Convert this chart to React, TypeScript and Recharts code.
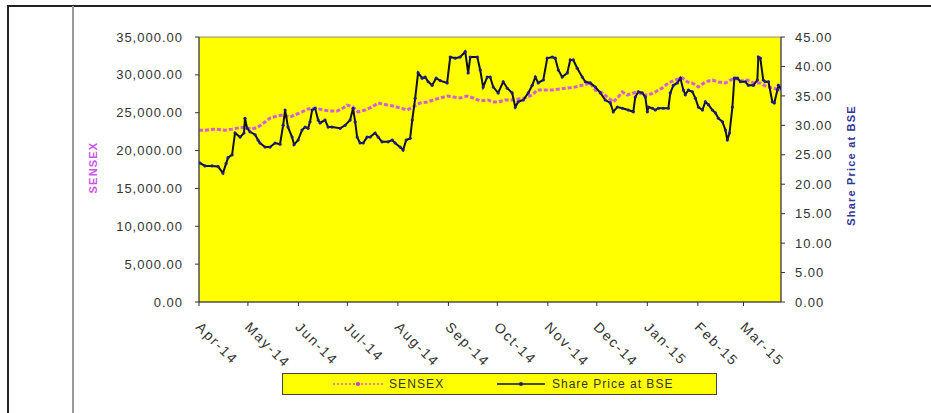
import React from 'react';
import { LineChart, Line, XAxis, YAxis, ReferenceArea } from 'recharts';

// Days since 1 Apr 2014 at each month start (tick positions) and their labels
const monthTicks = [0, 30, 61, 91, 122, 153, 183, 214, 244, 275, 306, 334];
const monthLabels = ['Apr-14', 'May-14', 'Jun-14', 'Jul-14', 'Aug-14', 'Sep-14', 'Oct-14', 'Nov-14', 'Dec-14', 'Jan-15', 'Feb-15', 'Mar-15'];

const sensexTicks = [0, 5000, 10000, 15000, 20000, 25000, 30000, 35000];
const priceTicks = [0, 5, 10, 15, 20, 25, 30, 35, 40, 45];

// SENSEX (left axis)
const sensexDays = [0, 3.7, 9.8, 16, 20.3, 23.9, 28.2, 32.5, 36.2, 40.5, 43.6, 47.9, 51.6, 55.9, 60.2, 63.2, 66.9, 71.2, 76.1, 80.4, 84.7, 88.4, 90.9, 94.5, 97.6, 101.9, 106.2, 109.9, 115.4, 119.1, 123.4, 127.7, 131.4, 135.7, 140, 143.6, 147.9, 152.2, 155.9, 160.2, 164.5, 168.2, 172.5, 177.4, 179.9, 183.5, 187.8, 192.1, 195.8, 200.1, 204.4, 207.5, 211.2, 216.7, 221.6, 226.5, 230.8, 235.7, 240, 243.1, 247.4, 251.1, 254.1, 257.2, 259.7, 262.7, 266.4, 268.9, 272.5, 275.6, 279.9, 284.2, 287.9, 292.2, 296.5, 299.6, 302.6, 306.3, 310.6, 314.9, 318.6, 322.9, 326, 329.1, 332.1, 336.4, 340.1, 344.3, 348.3, 352.3, 355.4, 357];
const sensexValues = [22700, 22700, 22830, 22700, 22830, 22980, 23100, 22830, 23100, 23775, 24300, 24570, 24700, 24430, 24830, 25100, 25490, 25620, 25360, 25230, 25230, 25620, 26000, 25760, 25100, 25360, 25760, 26280, 26020, 25890, 25620, 25360, 25760, 26280, 26420, 26680, 26950, 27200, 27080, 26950, 27200, 26950, 26550, 26680, 26420, 26420, 26680, 26680, 26810, 26950, 27340, 28000, 28000, 28000, 28130, 28270, 28400, 28660, 28920, 28000, 27600, 26950, 26420, 27080, 27740, 27340, 27600, 27740, 27340, 27340, 27740, 28270, 28920, 29320, 29590, 29060, 28920, 28400, 29060, 29320, 29060, 28920, 29320, 29590, 29190, 29320, 28920, 28920, 28400, 28270, 28000, 28000];

// Share Price at BSE (right axis)
const priceDays = [0.6, 3.7, 8, 11.7, 14.7, 16.6, 17.8, 20.3, 22.1, 25.2, 27.6, 28.2, 29.5, 31.3, 34.4, 36.2, 37.4, 40.5, 43.6, 46.7, 49.7, 51.6, 52.8, 54.6, 57.1, 58.3, 60.8, 63.2, 65.1, 66.9, 68.1, 69.4, 71.2, 73.1, 74.3, 77.3, 79.2, 81.6, 86.6, 89.6, 92.7, 94.5, 95.8, 97, 98.8, 100.7, 103.1, 105, 108, 109.9, 112.3, 116, 118.5, 120.3, 123.4, 125.2, 127.1, 129.5, 130.8, 132.6, 134.4, 136.9, 138.7, 140.6, 143, 145.5, 147.9, 152.2, 154.1, 157.2, 160.2, 163.3, 165.1, 166.4, 170.7, 172.5, 174.3, 176.8, 178.6, 180.5, 183.5, 186.6, 189.1, 192.1, 194, 195.8, 198.9, 202, 204.4, 206.3, 208.1, 211.2, 213.6, 216.7, 218.5, 220.4, 222.8, 225.9, 227.7, 229.6, 232, 235.1, 237, 240, 243.1, 246.2, 249.2, 252.3, 254.1, 256.6, 259.7, 263.3, 266.4, 267.6, 269.5, 271.9, 273.8, 275, 275.6, 278.1, 279.9, 281.8, 284.8, 287.9, 289.1, 291, 293.4, 295.3, 297.1, 298.3, 300.2, 302.6, 304.5, 306.3, 308.8, 310.6, 312.5, 314.9, 316.8, 318.6, 321.1, 322.9, 324.1, 325.4, 327.2, 328.4, 330.3, 332.1, 335.2, 337, 340.1, 342.5, 343.1, 344.3, 346.1, 347.3, 349.3, 351.7, 352.9, 354.8, 355.4, 357];
const priceValues = [23.6, 23.1, 23.1, 23.0, 21.9, 23.5, 24.5, 25.0, 28.7, 28.0, 28.7, 31.2, 29.5, 28.9, 28.4, 27.5, 27.0, 26.3, 26.3, 27.0, 26.8, 30.0, 32.6, 29.7, 28.0, 26.7, 27.5, 29.2, 29.7, 29.5, 30.6, 32.6, 32.9, 30.9, 30.4, 30.9, 29.7, 29.7, 29.5, 30.0, 30.9, 32.9, 30.6, 28.0, 27.0, 27.0, 28.0, 28.0, 28.7, 28.0, 27.2, 27.2, 27.5, 27.0, 26.3, 25.8, 27.5, 27.8, 30.9, 34.6, 38.9, 38.0, 38.2, 37.4, 36.8, 38.0, 37.6, 37.2, 41.6, 41.4, 41.6, 42.5, 38.9, 41.6, 41.6, 39.4, 36.5, 38.2, 38.2, 36.5, 35.5, 37.4, 36.3, 35.5, 33.1, 34.0, 34.3, 35.5, 36.8, 38.2, 37.2, 37.7, 41.4, 41.6, 41.4, 39.4, 38.2, 38.9, 41.1, 41.1, 39.7, 38.2, 37.4, 37.2, 36.5, 35.5, 34.3, 33.8, 32.3, 33.1, 32.9, 32.6, 32.3, 34.8, 35.7, 35.5, 34.8, 32.3, 33.1, 32.9, 32.6, 32.9, 32.9, 32.9, 35.5, 36.8, 37.2, 38.0, 36.0, 35.2, 36.0, 35.7, 34.6, 33.1, 32.6, 34.0, 33.5, 32.6, 32.1, 31.2, 30.6, 29.2, 27.5, 28.7, 33.1, 38.0, 38.0, 37.4, 37.4, 36.8, 36.8, 37.7, 41.6, 41.4, 37.7, 37.4, 37.4, 34.0, 33.8, 36.0, 36.8, 36.3];

const sensexData = sensexDays.map((d, i) => ({ day: d, sensex: sensexValues[i] }));
const priceData = priceDays.map((d, i) => ({ day: d, price: priceValues[i] }));

const FONT = 'Arial, "Liberation Sans", sans-serif';
const TXT = '#333';

const fmtSensex = (v: number) =>
  v.toLocaleString('en-US', { minimumFractionDigits: 2, maximumFractionDigits: 2 });
const fmtPrice = (v: number) => v.toFixed(2);

const MonthTick = (props: any) => {
  const { x, y, payload } = props;
  const idx = monthTicks.indexOf(payload.value);
  const label = idx >= 0 ? monthLabels[idx] : '';
  return (
    <text
      transform={`translate(${x - 4},${y + 20}) rotate(45)`}
      textAnchor="start"
      fontFamily={FONT}
      fontSize={14}
      letterSpacing={1.8}
      fill={TXT}
    >
      {label}
    </text>
  );
};

export default function App() {
  return (
    <div style={{ position: 'absolute', left: 0, top: 0, width: 931, height: 413, background: '#fff', overflow: 'hidden' }}>
      {/* frame lines */}
      <div style={{ position: 'absolute', left: 7, top: 5, width: 930, height: 2, background: '#222' }} />
      <div style={{ position: 'absolute', left: 7, top: 5, width: 1.5, height: 420, background: '#222' }} />
      <div style={{ position: 'absolute', left: 72, top: 6, width: 2, height: 420, background: '#999' }} />
      <div style={{ position: 'absolute', left: 0, top: 0 }}>
        <LineChart width={931} height={413} margin={{ top: 37, right: 70, bottom: 51, left: 80 }}>
          <XAxis
            type="number"
            dataKey="day"
            domain={[0, 357]}
            ticks={monthTicks}
            interval={0}
            tick={<MonthTick />}
            tickSize={4}
            height={60}
            stroke="#333"
            allowDataOverflow
          />
          <YAxis
            yAxisId="left"
            domain={[0, 35000]}
            ticks={sensexTicks}
            interval={0}
            tickFormatter={fmtSensex}
            width={119}
            tickSize={4}
            tickMargin={12}
            stroke="#333"
            tick={{ fontFamily: FONT, fontSize: 13, fill: TXT, letterSpacing: 1 }}
            label={(p: any) => {
              const vb = p.viewBox;
              const cx = vb.x + 13;
              const cy = vb.y + vb.height / 2 - 2;
              return (
                <text
                  x={cx}
                  y={cy}
                  transform={`rotate(-90, ${cx}, ${cy})`}
                  textAnchor="middle"
                  dominantBaseline="central"
                  fontFamily={FONT}
                  fontSize={11}
                  fontWeight="bold"
                  letterSpacing={1.2}
                  fill="#cc55ee"
                >
                  SENSEX
                </text>
              );
            }}
          />
          <YAxis
            yAxisId="right"
            orientation="right"
            domain={[0, 45]}
            ticks={priceTicks}
            interval={0}
            tickFormatter={fmtPrice}
            width={80}
            tickSize={4}
            tickMargin={10}
            stroke="#333"
            tick={{ fontFamily: FONT, fontSize: 13, fill: TXT, letterSpacing: 1 }}
            label={(p: any) => {
              const vb = p.viewBox;
              const cx = vb.x + 70;
              const cy = vb.y + vb.height / 2 - 4;
              return (
                <text
                  x={cx}
                  y={cy}
                  transform={`rotate(-90, ${cx}, ${cy})`}
                  textAnchor="middle"
                  dominantBaseline="central"
                  fontFamily={FONT}
                  fontSize={11}
                  fontWeight="bold"
                  letterSpacing={1.2}
                  fill="#333399"
                >
                  Share Price at BSE
                </text>
              );
            }}
          />
          <ReferenceArea
            yAxisId="left"
            x1={0}
            x2={357}
            y1={0}
            y2={35000}
            fill="#ffff00"
            fillOpacity={1}
            stroke="#888"
            strokeWidth={1}
          />
          <Line
            yAxisId="left"
            data={sensexData}
            dataKey="sensex"
            type="linear"
            stroke="#d65fd6"
            strokeWidth={3}
            strokeDasharray="4 2"
            dot={false}
            isAnimationActive={false}
          />
          <Line
            yAxisId="right"
            data={priceData}
            dataKey="price"
            type="linear"
            stroke="#111"
            strokeWidth={2}
            dot={{ r: 1.6, fill: '#1a1a99', stroke: '#1a1a99', strokeWidth: 0 }}
            isAnimationActive={false}
          />
        </LineChart>
      </div>
      {/* legend */}
      <svg style={{ position: 'absolute', left: 282, top: 373 }} width={436} height={23}>
        <rect x={0.5} y={0.5} width={434} height={21} fill="#ffff00" stroke="#444" strokeWidth={1} />
        <line x1={51} y1={11} x2={101} y2={11} stroke="#d65fd6" strokeWidth={1.5} strokeDasharray="2 2" />
        <circle cx={76} cy={11} r={2} fill="#cc33cc" />
        <text x={107} y={15} fontFamily={FONT} fontSize={12} letterSpacing={1.1} fill={TXT}>SENSEX</text>
        <line x1={215} y1={11} x2={263} y2={11} stroke="#111" strokeWidth={1.5} />
        <circle cx={239} cy={11} r={2} fill="#1a1a99" />
        <text x={270} y={15} fontFamily={FONT} fontSize={12} letterSpacing={1} fill={TXT}>Share Price at BSE</text>
      </svg>
    </div>
  );
}
